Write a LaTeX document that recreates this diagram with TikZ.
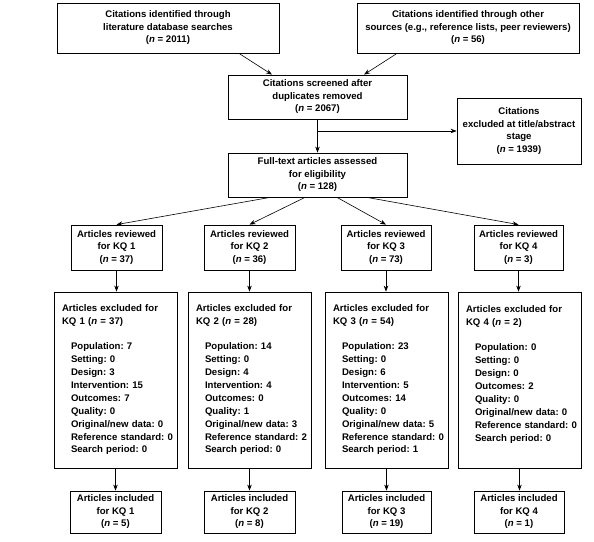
\documentclass[tikz,border=0pt]{standalone}
\usepackage{fontspec}
\setmainfont{Liberation Sans}
\usetikzlibrary{arrows.meta}
\frenchspacing
\tikzset{
  box/.style={draw, line width=0.8pt, align=center, inner sep=2pt,
    font=\fontsize{9.6}{12.5}\selectfont\bfseries\frenchspacing},
  exbox/.style={draw, line width=0.8pt, align=left, inner xsep=8pt, inner ysep=2pt,
    text width=107pt, minimum height=176pt,
    font=\fontsize{9.6}{12.9}\selectfont\bfseries\frenchspacing},
  arr/.style={-{Stealth[length=6pt,width=4.5pt]}, line width=0.6pt}
}
\newcommand{\itm}[1]{\hspace*{9pt}\mbox{#1}}
\begin{document}
\begin{tikzpicture}[x=1pt,y=1pt]
\useasboundingbox (0,0) rectangle (594,-541);
% top
\node[box, minimum width=222pt, minimum height=50pt] (b1) at (168,-28)
  {Citations identified through\\literature database searches\\(\textit{n} = 2011)};
\node[box, minimum width=222pt, minimum height=50pt] (b2) at (468,-28)
  {Citations identified through other\\sources (e.g., reference lists, peer reviewers)\\(\textit{n} = 56)};
\node[box, minimum width=179pt, minimum height=44pt] (scr) at (317.5,-97)
  {Citations screened after\\duplicates removed\\(\textit{n} = 2067)};
\node[box, minimum width=124pt, minimum height=66pt] (ex) at (519,-131)
  {Citations\\excluded at title/abstract\\stage\\(\textit{n} = 1939)};
\node[box, minimum width=179pt, minimum height=44pt] (ft) at (317.5,-175)
  {Full-text articles assessed\\for eligibility\\(\textit{n} = 128)};
% reviewed
\node[box, minimum width=91pt, minimum height=45pt] (r1) at (116.5,-247.5)
  {Articles reviewed\\for KQ 1\\(\textit{n} = 37)};
\node[box, minimum width=91pt, minimum height=45pt] (r2) at (249.5,-247.5)
  {Articles reviewed\\for KQ 2\\(\textit{n} = 36)};
\node[box, minimum width=90pt, minimum height=45pt] (r3) at (386,-247.5)
  {Articles reviewed\\for KQ 3\\(\textit{n} = 73)};
\node[box, minimum width=89pt, minimum height=45pt] (r4) at (518.5,-247.5)
  {Articles reviewed\\for KQ 4\\(\textit{n} = 3)};
% excluded
\node[exbox] (e1) at (115.5,-380)
  {Articles excluded for\\KQ 1 (\textit{n} = 37)\\[12pt]
   \itm{Population: 7}\\\itm{Setting: 0}\\\itm{Design: 3}\\\itm{Intervention: 15}\\\itm{Outcomes: 7}\\\itm{Quality: 0}\\\itm{Original/new data: 0}\\\itm{Reference standard: 0}\\\itm{Search period: 0}};
\node[exbox] (e2) at (249.5,-380)
  {Articles excluded for\\KQ 2 (\textit{n} = 28)\\[12pt]
   \itm{Population: 14}\\\itm{Setting: 0}\\\itm{Design: 4}\\\itm{Intervention: 4}\\\itm{Outcomes: 0}\\\itm{Quality: 1}\\\itm{Original/new data: 3}\\\itm{Reference standard: 2}\\\itm{Search period: 0}};
\node[exbox] (e3) at (386.5,-380)
  {Articles excluded for\\KQ 3 (\textit{n} = 54)\\[12pt]
   \itm{Population: 23}\\\itm{Setting: 0}\\\itm{Design: 6}\\\itm{Intervention: 5}\\\itm{Outcomes: 14}\\\itm{Quality: 0}\\\itm{Original/new data: 5}\\\itm{Reference standard: 0}\\\itm{Search period: 1}};
\node[exbox] (e4) at (519.5,-380)
  {Articles excluded for\\KQ 4 (\textit{n} = 2)\\[12pt]
   \itm{Population: 0}\\\itm{Setting: 0}\\\itm{Design: 0}\\\itm{Outcomes: 2}\\\itm{Quality: 0}\\\itm{Original/new data: 0}\\\itm{Reference standard: 0}\\\itm{Search period: 0}\\\mbox{}};
% included
\node[box, minimum width=91pt, minimum height=42pt] (i1) at (115.5,-512)
  {Articles included\\for KQ 1\\(\textit{n} = 5)};
\node[box, minimum width=91pt, minimum height=42pt] (i2) at (249.5,-512)
  {Articles included\\for KQ 2\\(\textit{n} = 8)};
\node[box, minimum width=89pt, minimum height=42pt] (i3) at (386.5,-512)
  {Articles included\\for KQ 3\\(\textit{n} = 19)};
\node[box, minimum width=90pt, minimum height=42pt] (i4) at (519,-512)
  {Articles included\\for KQ 4\\(\textit{n} = 1)};
% connectors
\draw[arr] ([xshift=71pt]b1.south) -- ([xshift=-45.5pt]scr.north);
\draw[arr] ([xshift=-71pt]b2.south) -- ([xshift=46.5pt]scr.north);
\draw[arr] (scr.south) -- (ft.north);
\draw[arr] (scr.south |- ex.west) -- (ex.west);
\draw[arr] ([xshift=-47.5pt]ft.south) -- (r1.north);
\draw[arr] ([xshift=-12.5pt]ft.south) -- (r2.north);
\draw[arr] ([xshift=19.5pt]ft.south) -- (r3.north);
\draw[arr] ([xshift=49.5pt]ft.south) -- (r4.north);
\foreach \k in {1,2,3,4}{
  \draw[arr] (r\k.south) -- (r\k.south |- e\k.north);
  \draw[arr] (e\k.south) -- (e\k.south |- i\k.north);
}
\end{tikzpicture}
\end{document}
